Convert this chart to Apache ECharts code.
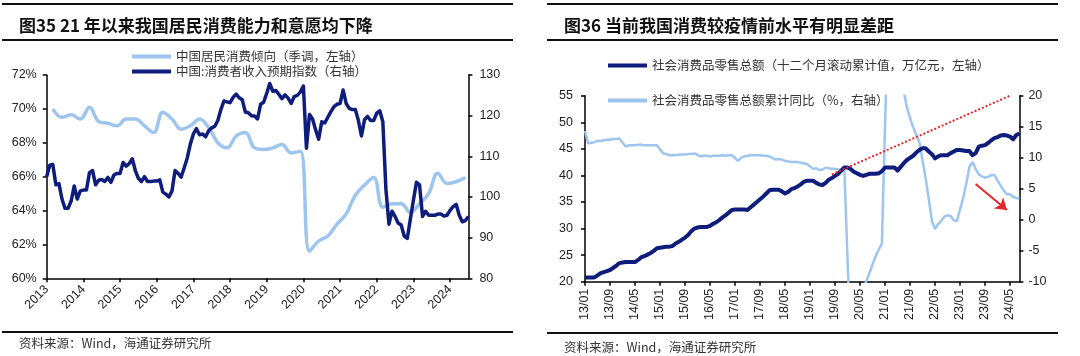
<!DOCTYPE html>
<html><head><meta charset="utf-8">
<script src="https://cdn.jsdelivr.net/npm/echarts@6/dist/echarts.min.js"></script>
<style>html,body{margin:0;padding:0;background:#fff}#c{width:1080px;height:356px}</style>
</head><body><div id="c"></div>
<script>
// ---------- DATA ----------
// Left chart (图35): monthly axis 2013-01 .. 2024-07
const leftStart = [2013, 1], leftCount = 139;
// 中国居民消费倾向（季调）: quarterly, 2013Q1 .. 2024Q2 (%)
const propensityQuarterly = [70.0, 69.5, 69.65, 69.4, 70.1, 69.25, 69.15, 69.0, 69.4, 69.4, 69.0, 68.6,
  69.8, 69.4, 68.8, 69.0, 69.4, 68.9, 68.0, 67.7, 68.4, 68.6, 67.7, 67.6, 67.7, 67.9, 67.4, 67.5,
  61.6, 62.2, 62.5, 63.2, 63.8, 64.9, 65.5, 65.95, 64.2, 64.4, 64.4, 63.9, 64.4, 65.0, 66.2, 65.6,
  65.7, 65.95];
// 中国:消费者收入预期指数: monthly 2013-01 .. 2024-07
const incomeExpectation = [
  105.0, 107.8, 108.0, 103.0, 103.3, 99.5, 97.2, 97.2, 99.0, 102.7, 99.5, 101.5,
  101.7, 101.7, 106.0, 106.5, 103.0, 104.1, 104.3, 103.8, 104.8, 103.6, 105.4, 105.8,
  105.8, 108.5, 107.6, 108.2, 109.4, 106.5, 104.6, 103.8, 105.0, 103.8, 103.8, 103.9,
  103.9, 104.2, 101.2, 100.7, 100.0, 101.5, 106.5, 105.8, 104.9, 107.2, 109.6, 113.0,
  115.5, 116.8, 115.3, 115.5, 114.8, 116.3, 117.0, 117.4, 118.8, 121.5, 123.6, 123.4,
  123.2, 124.5, 125.3, 124.4, 123.9, 120.9, 120.7, 120.0, 119.9, 119.2, 122.8, 123.3,
  125.5, 127.9, 126.0, 126.2, 125.2, 124.2, 125.1, 124.3, 123.0, 124.7, 125.0, 125.8,
  127.3, 112.0, 120.3, 119.2, 116.5, 114.2, 118.5, 118.2, 119.6, 121.0, 122.2, 122.8,
  123.0, 126.3, 123.0, 121.8, 121.5, 121.5, 118.8, 115.0, 119.0, 119.8, 118.8, 118.8,
  120.6, 121.2, 118.5, 102.0, 93.3, 96.5, 95.2, 93.6, 93.1, 90.4, 89.8, 94.5,
  99.2, 103.6, 103.0, 95.2, 96.5, 95.5, 95.5, 95.5, 95.8, 95.8, 95.3, 95.5,
  96.7, 97.6, 98.2, 95.5, 93.9, 94.2, 95.2];

// Right chart (图36): monthly axis 13/01 .. 24/08
const rightStart = [2013, 1], rightCount = 140;
// 社会消费品零售总额（十二个月滚动累计值，万亿元）
const retailRolling = [
  20.8, 20.8, 20.8, 20.8, 21.2, 21.6, 21.8, 22.0, 22.2, 22.6, 23.0, 23.5,
  23.6, 23.7, 23.7, 23.7, 23.7, 24.1, 24.6, 24.8, 25.1, 25.4, 25.8, 26.3,
  26.4, 26.5, 26.6, 26.6, 26.7, 27.2, 27.5, 27.9, 28.3, 28.8, 29.5, 30.0,
  30.2, 30.3, 30.3, 30.3, 30.5, 30.9, 31.2, 31.6, 32.1, 32.5, 33.0, 33.5,
  33.6, 33.6, 33.6, 33.6, 33.5, 34.0, 34.5, 35.0, 35.5, 36.0, 36.6, 37.2,
  37.3, 37.3, 37.3, 37.0, 36.6, 36.9, 37.4, 37.6, 37.9, 38.3, 38.8, 39.0,
  39.0, 39.0, 38.6, 38.3, 38.2, 38.6, 39.2, 39.5, 39.9, 40.3, 40.9, 41.5,
  41.5, 41.2, 40.7, 40.4, 40.1, 39.9, 40.1, 40.3, 40.3, 40.3, 40.4, 40.8,
  41.5, 41.5, 41.5, 41.5, 40.9, 41.6, 42.3, 42.9, 43.3, 43.7, 44.3, 44.8,
  45.1, 45.1, 44.5, 44.0, 43.2, 43.6, 43.8, 43.8, 43.8, 44.2, 44.5, 44.8,
  44.8, 44.7, 44.6, 44.6, 43.8, 44.2, 45.4, 45.6, 45.7, 46.1, 46.6, 47.0,
  47.2, 47.5, 47.6, 47.5, 47.3, 46.8, 47.6, 47.9];
// 社会消费品零售总额累计同比（%）; January not published (null)
const retailYoY = [
  14.3, 12.3, 12.4, 12.5, 12.7, 12.7, 12.8, 12.9, 12.9, 13.0, 13.0, 13.1,
  null, 11.8, 12.0, 12.0, 12.0, 12.1, 12.1, 12.0, 12.0, 12.0, 12.0, 12.0,
  null, 10.7, 10.6, 10.4, 10.4, 10.4, 10.5, 10.5, 10.5, 10.6, 10.6, 10.7,
  null, 10.2, 10.3, 10.3, 10.2, 10.3, 10.3, 10.3, 10.4, 10.3, 10.4, 10.4,
  null, 9.5, 10.0, 10.2, 10.3, 10.4, 10.4, 10.4, 10.4, 10.3, 10.3, 10.2,
  null, 9.7, 9.8, 9.7, 9.5, 9.4, 9.3, 9.3, 9.3, 9.2, 9.1, 9.0,
  null, 8.2, 8.3, 8.0, 8.1, 8.4, 8.3, 8.2, 8.2, 8.1, 8.0, 8.0,
  null, -20.5, -19.0, -16.2, -13.5, -11.4, -9.9, -8.6, -7.2, -5.9, -4.8, -3.9,
  null, 33.8, 33.9, 29.6, 25.7, 23.0, 20.7, 18.1, 16.4, 14.9, 13.7, 12.5,
  null, 6.7, 3.3, -0.2, -1.5, -0.7, -0.2, 0.5, 0.7, 0.6, -0.1, -0.2,
  null, 3.5, 5.8, 8.5, 9.3, 8.2, 7.3, 7.0, 6.8, 6.9, 7.2, 7.2,
  null, 5.5, 4.7, 4.1, 4.1, 3.7, 3.5, 3.4];
// annotations (category, left-axis value)
const trendLine = [['19/08', 40.2], ['24/05', 55]];
const arrowLine = [['23/06', 38.4], ['24/04', 33.5]];

const names = {
  l1: '中国居民消费倾向（季调，左轴）',
  l2: '中国:消费者收入预期指数（右轴）',
  r1: '社会消费品零售总额（十二个月滚动累计值，万亿元，左轴）',
  r2: '社会消费品零售总额累计同比（%，右轴）'
};
const titles = ['图35 21 年以来我国居民消费能力和意愿均下降', '图36 当前我国消费较疫情前水平有明显差距'];
const sourceText = '资料来源：Wind，海通证券研究所';

// ---------- BUILD ----------
function months(start, n, fmt) {
  const out = [];
  for (let i = 0; i < n; i++) {
    const t = start[0] * 12 + (start[1] - 1) + i;
    const y = Math.floor(t / 12), m = t % 12 + 1;
    out.push(fmt(y, m));
  }
  return out;
}
const leftMonths = months(leftStart, leftCount, (y, m) => y + '-' + String(m).padStart(2, '0'));
const rightMonths = months(rightStart, rightCount, (y, m) => String(y % 100).padStart(2, '0') + '/' + String(m).padStart(2, '0'));
const propensityMonthly = leftMonths.map(() => null);
propensityQuarterly.forEach((v, q) => { const i = q * 3 + 2; if (i < leftCount) propensityMonthly[i] = v; });

const LAT = '"Liberation Sans", Arial, sans-serif';
const CJK = '"Noto Sans CJK SC", sans-serif';
const DARK = '#0e1c7c', LIGHT = '#9dc5ee', RED = '#e8262a';

function yAx(gridIndex, min, max, interval, pos, fmt, margin) {
  return {
    type: 'value', gridIndex, min, max, interval, position: pos,
    axisLine: { show: true, onZero: false, lineStyle: { color: '#000', width: 1.5 } },
    axisTick: { show: true, length: 4, lineStyle: { color: '#000', width: 1.5 } },
    splitLine: { show: false },
    axisLabel: { color: '#222', fontSize: 12.5, fontFamily: LAT, margin, formatter: fmt }
  };
}
function xAx(gridIndex, data, interval, rotate, fmt, margin) {
  return {
    type: 'category', gridIndex, data, boundaryGap: false, position: 'bottom',
    axisLine: { onZero: false, lineStyle: { color: '#000', width: 1.5 } },
    axisTick: { interval, length: 4, lineStyle: { color: '#000', width: 1.5 } },
    axisLabel: { interval, rotate, color: '#222', fontSize: 12.5, fontFamily: LAT, margin, formatter: fmt }
  };
}
function rule(x1, x2, y) {
  return { type: 'line', shape: { x1, y1: y, x2, y2: y }, style: { stroke: '#111', lineWidth: 2 }, silent: true };
}

const chart = echarts.init(document.getElementById('c'));
chart.setOption({
  animation: false,
  backgroundColor: '#fff',
  title: [
    { text: titles[0], left: 14, top: 10, textStyle: { fontFamily: CJK, fontSize: 17, fontWeight: 'bold', color: '#111', lineHeight: 22 } },
    { text: titles[1], left: 559, top: 10, textStyle: { fontFamily: CJK, fontSize: 17, fontWeight: 'bold', color: '#111', lineHeight: 22 } },
    { text: sourceText, left: 14, top: 332, textStyle: { fontFamily: CJK, fontSize: 12.5, fontWeight: 'normal', color: '#333' } },
    { text: sourceText, left: 559, top: 336, textStyle: { fontFamily: CJK, fontSize: 12.5, fontWeight: 'normal', color: '#333' } }
  ],
  graphic: [rule(2, 513, 4), rule(2, 513, 40), rule(2, 513, 332), rule(547, 1058, 4), rule(547, 1058, 40), rule(547, 1058, 333)],
  legend: [
    { left: 127, top: 44, orient: 'vertical', itemGap: 0, itemWidth: 39, itemHeight: 4, icon: 'rect', selectedMode: false,
      data: [names.l1, names.l2], textStyle: { fontFamily: CJK, fontSize: 12.5, color: '#333', lineHeight: 15 } },
    { left: 603, top: 53, orient: 'vertical', itemGap: 20, itemWidth: 39, itemHeight: 4, icon: 'rect', selectedMode: false,
      data: [names.r1, names.r2], textStyle: { fontFamily: CJK, fontSize: 12.5, color: '#333', lineHeight: 15 } }
  ],
  grid: [
    { left: 46.7, right: 611.6, top: 75, bottom: 77.7 },
    { left: 585, right: 60.6, top: 95.7, bottom: 74.3 }
  ],
  xAxis: [
    xAx(0, leftMonths, 11, 45, v => v.slice(0, 4), 9),
    xAx(1, rightMonths, 7, 90, v => v, 7)
  ],
  yAxis: [
    yAx(0, 60, 72, 2, 'left', '{value}%', 10),
    yAx(0, 80, 130, 10, 'right', '{value}', 11),
    yAx(1, 20, 55, 5, 'left', '{value}', 12),
    yAx(1, -10, 20, 5, 'right', '{value}', 9)
  ],
  series: [
    { name: names.l1, type: 'line', xAxisIndex: 0, yAxisIndex: 0, data: propensityMonthly, connectNulls: true,
      smooth: 0.4, showSymbol: false, itemStyle: { color: LIGHT }, lineStyle: { color: LIGHT, width: 3.5 }, z: 2 },
    { name: names.l2, type: 'line', xAxisIndex: 0, yAxisIndex: 1, data: incomeExpectation,
      showSymbol: false, itemStyle: { color: DARK }, lineStyle: { color: DARK, width: 3.5, join: 'round' }, z: 3 },
    { name: names.r1, type: 'line', xAxisIndex: 1, yAxisIndex: 2, data: retailRolling,
      showSymbol: false, itemStyle: { color: DARK }, lineStyle: { color: DARK, width: 4, join: 'round' }, z: 3,
      markLine: {
        silent: true, animation: false, symbol: ['none', 'none'], label: { show: false }, emphasis: { disabled: true },
        data: [
          [{ coord: trendLine[0], symbol: 'none', lineStyle: { color: RED, type: 'dotted', width: 2 } },
           { coord: trendLine[1], symbol: 'none' }],
          [{ coord: arrowLine[0], symbol: 'none', lineStyle: { color: RED, type: 'solid', width: 2 } },
           { coord: arrowLine[1], symbol: 'arrow', symbolSize: 11 }]
        ]
      } },
    { name: names.r2, type: 'line', xAxisIndex: 1, yAxisIndex: 3, data: retailYoY, connectNulls: true,
      showSymbol: false, itemStyle: { color: LIGHT }, lineStyle: { color: LIGHT, width: 2.5 }, z: 2 }
  ]
});
</script></body></html>
